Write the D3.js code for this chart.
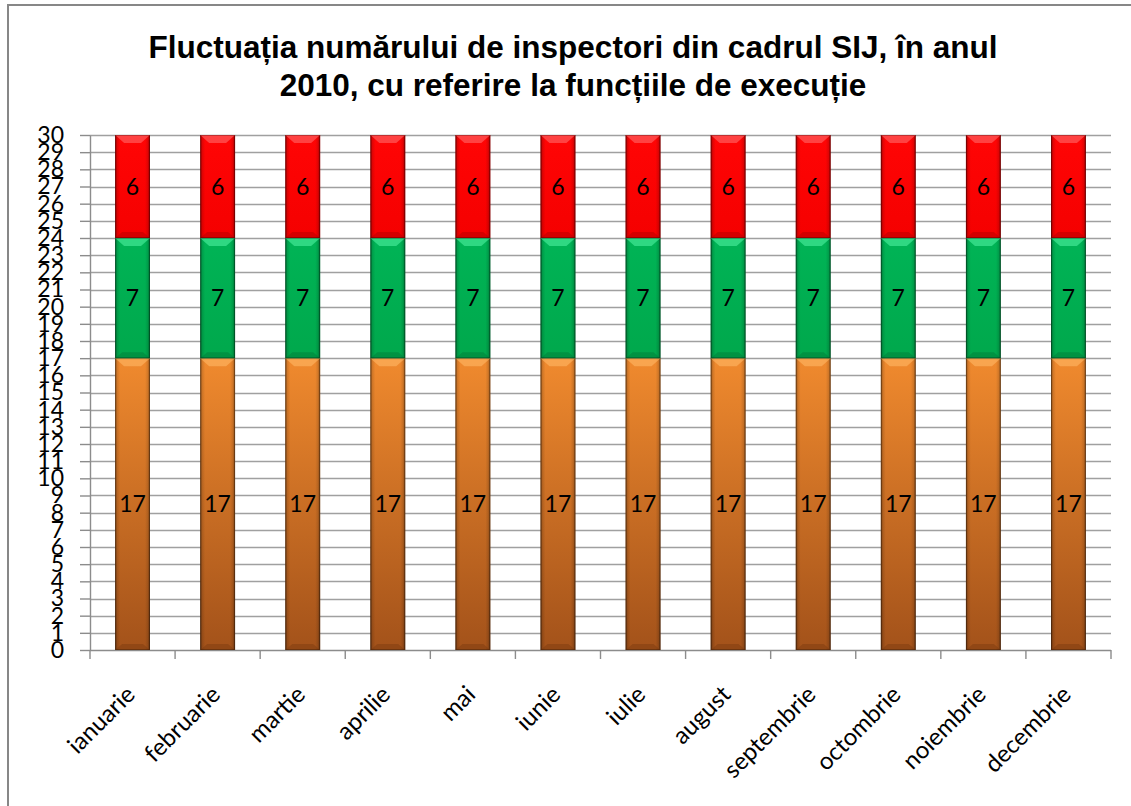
<!DOCTYPE html>
<html>
<head>
<meta charset="utf-8">
<script src="https://cdn.jsdelivr.net/npm/d3@7"></script>
<style>
html,body{margin:0;padding:0;background:#fff;}
svg{display:block;}
</style>
</head>
<body>
<svg id="chart" width="1131" height="806"></svg>
<script>
const months = ["ianuarie","februarie","martie","aprilie","mai","iunie","iulie","august","septembrie","octombrie","noiembrie","decembrie"];
const seriesNames = ["s1","s2","s3"];
const s1 = [17,17,17,17,17,17,17,17,17,17,17,17];
const s2 = [7,7,7,7,7,7,7,7,7,7,7,7];
const s3 = [6,6,6,6,6,6,6,6,6,6,6,6];
const yTicks = d3.range(0,31,1);
const titleLines = ["Fluctuația numărului de inspectori din cadrul SIJ, în anul","2010, cu referire la funcțiile de execuție"];

const svg = d3.select("#chart");
const W = 1131, H = 806;
const x0 = 90, x1 = 1111, y0 = 650, yTop = 135;

// frame
svg.append("rect").attr("width",W).attr("height",H).attr("fill","#fff");
svg.append("path").attr("d",`M8,806 L8,5 L1131,5`).attr("fill","none").attr("stroke","#878787").attr("stroke-width",2);

// title
const title = svg.append("text").attr("text-anchor","middle")
  .attr("font-family","'Liberation Sans',Arial,sans-serif").attr("font-weight","bold")
  .attr("font-size",31.5).attr("fill","#000");
titleLines.forEach((t,i)=>{
  title.append("tspan").attr("x",573).attr("y",58+i*38).text(t);
});

const x = d3.scaleBand().domain(months).range([x0,x1]).paddingInner(0.59).paddingOuter(0.295);
const y = d3.scaleLinear().domain([0,30]).range([y0,yTop]);

const defs = svg.append("defs");
function vgrad(id, top, bottom){
  const g = defs.append("linearGradient").attr("id",id).attr("x1",0).attr("y1",0).attr("x2",0).attr("y2",1);
  g.append("stop").attr("offset","0%").attr("stop-color",top);
  g.append("stop").attr("offset","100%").attr("stop-color",bottom);
}
vgrad("gOrange","#f08a2e","#a3521a");
vgrad("gGreen","#00b456","#00a84c");
vgrad("gRed","#ff0505","#f50000");
const edge = defs.append("linearGradient").attr("id","gEdge").attr("x1",0).attr("y1",0).attr("x2",1).attr("y2",0);
[[0,0.45],[0.06,0.12],[0.14,0],[0.86,0],[0.94,0.12],[1,0.45]].forEach(([o,a])=>{
  edge.append("stop").attr("offset",o).attr("stop-color","#000").attr("stop-opacity",a);
});

// grid
const grid = svg.append("g");
grid.selectAll("line").data(yTicks.filter(d=>d>0)).join("line")
  .attr("x1",x0).attr("x2",x1).attr("y1",d=>Math.round(y(d))+0.5).attr("y2",d=>Math.round(y(d))+0.5)
  .attr("stroke","#a0a0a0").attr("stroke-width",1.4);

// y axis
const yAxis = svg.append("g").attr("transform",`translate(${x0},0)`)
  .call(d3.axisLeft(y).tickValues(yTicks).tickSize(10).tickPadding(16).tickSizeOuter(0));
yAxis.select(".domain").attr("stroke","#8c8c8c").attr("stroke-width",1.4);
yAxis.selectAll(".tick line").attr("stroke","#8c8c8c").attr("stroke-width",1.4);
yAxis.selectAll(".tick text").attr("font-family","Lato,sans-serif").attr("font-size",23).attr("fill","#000");

// x axis
const xAxisG = svg.append("g").attr("transform",`translate(0,${y0})`);
xAxisG.append("line").attr("x1",x0).attr("x2",x1).attr("y1",0.5).attr("y2",0.5).attr("stroke","#8c8c8c").attr("stroke-width",1.4);
const step = x.step();
xAxisG.selectAll(".xt").data(d3.range(months.length+1)).join("line").attr("class","xt")
  .attr("x1",i=>x0+i*step).attr("x2",i=>x0+i*step).attr("y1",0).attr("y2",9)
  .attr("stroke","#8c8c8c").attr("stroke-width",1.4);
xAxisG.selectAll(".xl").data(months).join("text").attr("class","xl")
  .attr("text-anchor","end")
  .attr("font-family","Lato,sans-serif").attr("font-size",24).attr("fill","#000")
  .attr("transform",d=>`translate(${x(d)+x.bandwidth()/2+4},${46}) rotate(-45)`)
  .text(d=>d);

// bars
const stackData = months.map((mo,i)=>({month:mo, s1:s1[i], s2:s2[i], s3:s3[i]}));
const stack = d3.stack().keys(seriesNames)(stackData);
const fills = {s1:"url(#gOrange)", s2:"url(#gGreen)", s3:"url(#gRed)"};
const bevel = {s1:"#ffb866", s2:"#4ff0a0", s3:"#ff6a6a"};
const bottomDark = {s1:"#7a3a10", s2:"#007838", s3:"#b00000"};

stack.forEach(layer=>{
  const key = layer.key;
  const g = svg.append("g");
  layer.forEach(d=>{
    const bx = x(d.data.month), bw = x.bandwidth();
    const ty = y(d[1]), by = y(d[0]);
    g.append("rect").attr("x",bx).attr("y",ty).attr("width",bw).attr("height",by-ty).attr("fill",fills[key]);
    g.append("rect").attr("x",bx).attr("y",ty).attr("width",bw).attr("height",by-ty).attr("fill","url(#gEdge)");
    g.append("path").attr("d",`M${bx},${ty} L${bx+bw},${ty} L${bx+bw-9},${ty+8} L${bx+9},${ty+8} Z`)
      .attr("fill",bevel[key]).attr("opacity",0.6);
    g.append("path").attr("d",`M${bx},${by} L${bx+bw},${by} L${bx+bw-7},${by-6} L${bx+7},${by-6} Z`)
      .attr("fill",bottomDark[key]).attr("opacity",0.45);
    g.append("rect").attr("x",bx+0.5).attr("y",ty+0.5).attr("width",bw-1).attr("height",by-ty-1)
      .attr("fill","none").attr("stroke","#000").attr("stroke-opacity",0.25);
    g.append("text").attr("x",bx+bw/2).attr("y",(ty+by)/2+8).attr("text-anchor","middle")
      .attr("font-family","Lato,sans-serif").attr("font-size",23).attr("fill","#000")
      .text(d[1]-d[0]);
  });
});
</script>
</body>
</html>
